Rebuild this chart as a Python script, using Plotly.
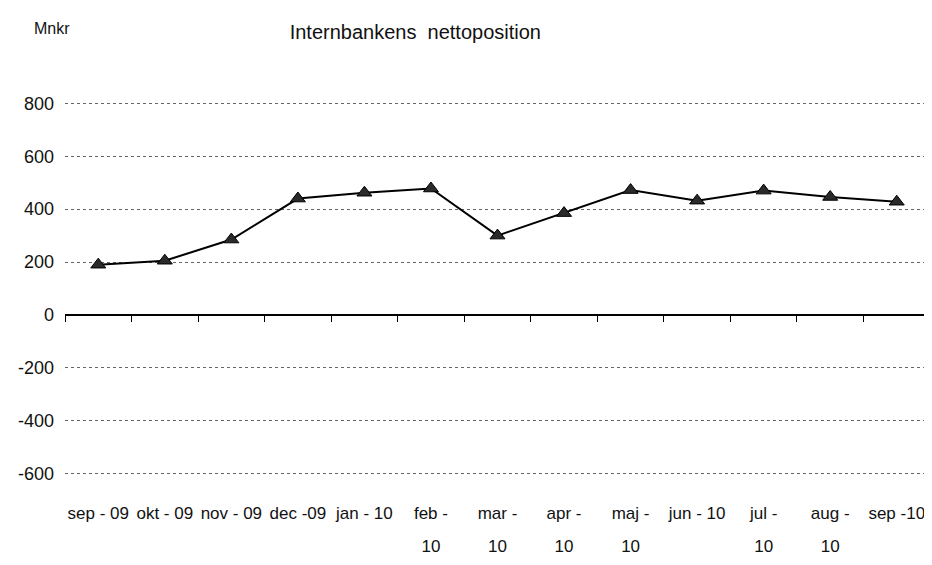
import plotly.graph_objects as go

categories = ["sep - 09", "okt - 09", "nov - 09", "dec -09", "jan - 10", "feb - 10",
              "mar - 10", "apr - 10", "maj - 10", "jun - 10", "jul - 10",
              "aug - 10", "sep -10"]
label_line1 = ["sep - 09", "okt - 09", "nov - 09", "dec -09", "jan - 10", "feb -",
               "mar -", "apr -", "maj -", "jun - 10", "jul -", "aug -", "sep -10"]
label_line2 = ["", "", "", "", "", "10", "10", "10", "10", "", "10", "10", ""]
values = [190, 205, 285, 440, 462, 478, 300, 385, 472, 432, 470, 446, 428]
y_ticks = [800, 600, 400, 200, 0, -200, -400, -600]
y_tick_text = ["800", "600", "400", "200", "0", "-200", "-400", "-600"]

FONT = "Liberation Sans Narrow, Arial Narrow, Liberation Sans, Arial, sans-serif"
y_min, y_max = -605, 805
xr = [-0.5, len(categories) - 0.5]

fig = go.Figure()
fig.add_trace(go.Scatter(
    x=categories, y=values, mode="lines+markers",
    line=dict(color="black", width=2),
    marker=dict(symbol="triangle-up", size=13, color="#2a2a2a",
                line=dict(color="black", width=1)),
    showlegend=False, hoverinfo="x+y",
))
# invisible traces carrying the overlay category axes
for ax in ("x2", "x3"):
    fig.add_trace(go.Scatter(x=categories, y=[None] * len(categories), xaxis=ax,
                             mode="markers", showlegend=False, hoverinfo="skip"))

common = dict(type="category", categoryorder="array", categoryarray=categories,
              automargin=False, showgrid=False, zeroline=False, range=xr)

fig.update_layout(
    width=932, height=565,
    paper_bgcolor="white", plot_bgcolor="white",
    margin=dict(l=57, r=10, t=94, b=98, autoexpand=False),
    font=dict(family=FONT, size=17, color="#111111"),
    title=dict(text="Internbankens  nettoposition", x=0.405, xref="paper", xanchor="center",
               y=0.958, yanchor="middle", font=dict(family=FONT, size=20, color="#111111")),
    xaxis=dict(**common, tickvals=categories, ticktext=label_line1,
               showline=False, ticks="", ticklabelstandoff=26,
               tickfont=dict(family=FONT, size=17)),
    xaxis2=dict(**common, overlaying="x", anchor="free",
                position=(0 - y_min) / (y_max - y_min),
                showticklabels=False, showline=True, linecolor="black",
                linewidth=1.5, ticks="outside", ticklen=6, tickcolor="black",
                tickson="boundaries"),
    xaxis3=dict(**common, overlaying="x", anchor="y", side="bottom",
                tickvals=categories, ticktext=label_line2,
                showline=False, ticks="", ticklabelstandoff=59,
                tickfont=dict(family=FONT, size=17)),
    yaxis=dict(range=[y_min, y_max], tickvals=y_ticks, ticktext=y_tick_text, ticks="",
               showline=False, automargin=False,
               zeroline=False, showgrid=True, gridcolor="#666666", griddash="dot",
               gridwidth=1, ticklabelstandoff=10, tickfont=dict(family=FONT, size=18)),
    annotations=[dict(text="Mnkr", xref="paper", yref="paper", x=-0.038, y=1.196,
                      xanchor="left", yanchor="middle", showarrow=False,
                      font=dict(family=FONT, size=16, color="#111111"))],
)
fig.write_html("out.html")
